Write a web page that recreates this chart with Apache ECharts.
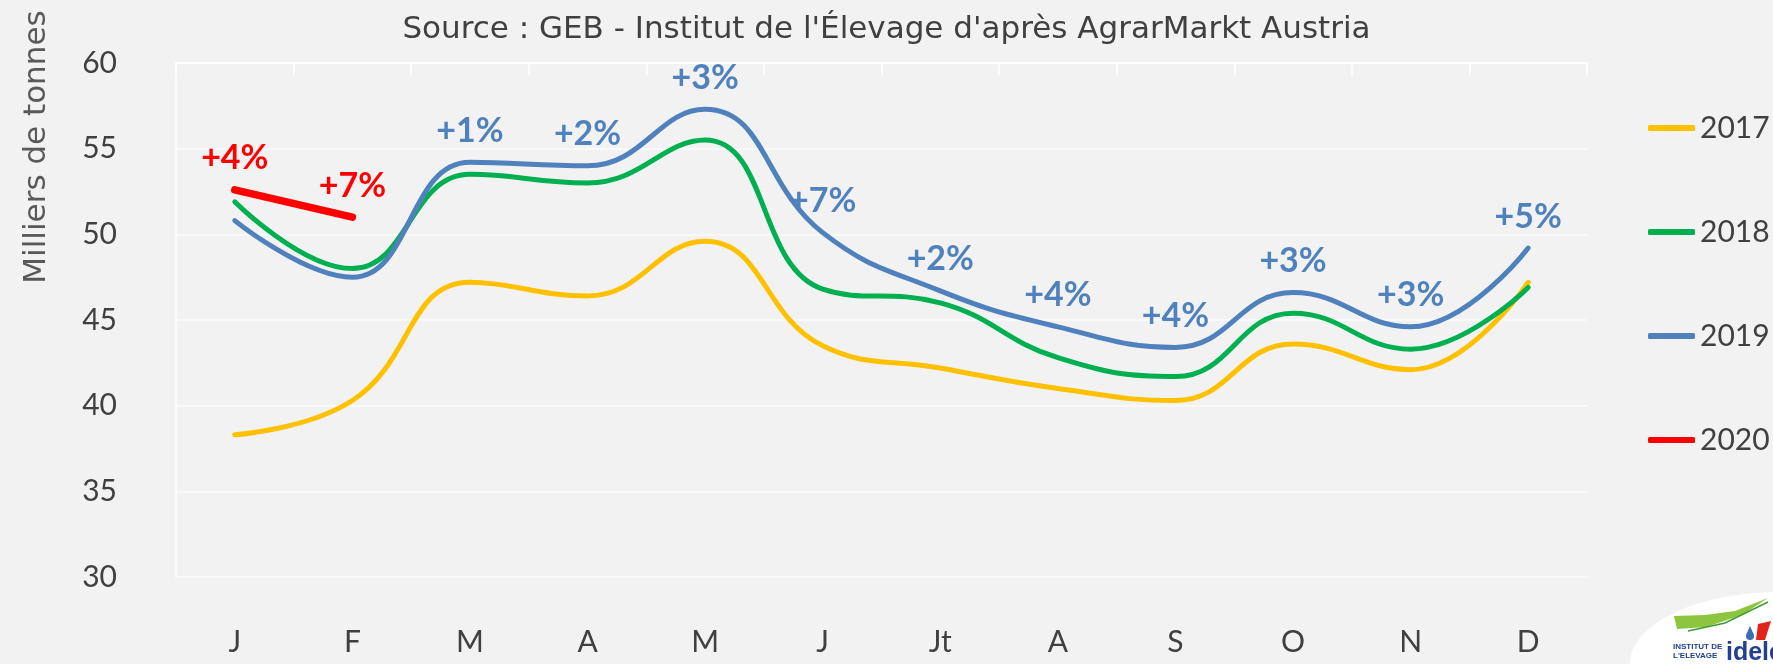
<!DOCTYPE html>
<html>
<head>
<meta charset="utf-8">
<script src="https://cdn.jsdelivr.net/npm/echarts@6/dist/echarts.min.js"></script>
<style>
  html, body { margin: 0; padding: 0; background: #f2f2f2; }
  #chart { width: 1773px; height: 664px; }
</style>
</head>
<body>
<div id="chart"></div>
<script>
// Month initials along the x axis
var months = ['J', 'F', 'M', 'A', 'M', 'J', 'Jt', 'A', 'S', 'O', 'N', 'D'];

// Monthly volumes, thousand tonnes
var v2017 = [38.3, 40.3, 47.2, 46.4, 49.6, 43.5, 42.2, 41.0, 40.3, 43.6, 42.1, 47.2];
var v2018 = [51.9, 48.0, 53.5, 53.0, 55.5, 46.8, 46.0, 42.8, 41.7, 45.4, 43.3, 46.9];
var v2019 = [50.8, 47.5, 54.2, 54.0, 57.3, 50.1, 46.7, 44.6, 43.4, 46.6, 44.6, 49.2];
var v2020 = [52.6, 51.0];

// Year-on-year change shown above each point
var chg2019 = ['', '', '+1%', '+2%', '+3%', '+7%', '+2%', '+4%', '+4%', '+3%', '+3%', '+5%'];
var chg2020 = ['+4%', '+7%'];

var yTicks = { min: 30, max: 60, step: 5 };

var FONT = 'Lato, "Open Sans", sans-serif';
var WIDE = '"DejaVu Sans", Lato, sans-serif';
var TXT = '#404040';
var COL = { y2017: '#ffc000', y2018: '#00b050', y2019: '#4f81bd', y2020: '#ff0000' };

var chart = echarts.init(document.getElementById('chart'), null, { renderer: 'canvas' });

function pctLabel(arr, color) {
  return {
    show: true,
    position: 'top',
    distance: 14,
    fontFamily: FONT,
    fontWeight: 'bold',
    fontSize: 34,
    color: color,
    formatter: function (p) { return arr[p.dataIndex] || ''; }
  };
}

chart.setOption({
  animation: false,
  backgroundColor: '#f2f2f2',
  textStyle: { fontFamily: FONT },
  title: {
    text: "Source : GEB - Institut de l'Élevage d'après AgrarMarkt Austria",
    left: 'center',
    top: 14,
    padding: 0,
    textStyle: { fontFamily: WIDE, fontSize: 31, fontWeight: 'normal', color: TXT }
  },
  legend: {
    orient: 'vertical',
    left: 1643,
    top: 108,
    itemGap: 74,
    itemWidth: 47,
    itemHeight: 6,
    icon: 'roundRect',
    selectedMode: false,
    textStyle: { fontFamily: FONT, fontSize: 30, color: TXT },
    data: ['2017', '2018', '2019', '2020']
  },
  grid: { left: 176, right: 186, top: 63, bottom: 87, containLabel: false },
  xAxis: [
    {
      type: 'category',
      data: months,
      boundaryGap: true,
      position: 'bottom',
      axisLine: { show: false },
      axisTick: { show: false },
      axisLabel: { margin: 50, fontSize: 30, color: TXT, fontFamily: FONT }
    },
    {
      type: 'category',
      data: months,
      boundaryGap: true,
      position: 'top',
      axisLine: { show: true, lineStyle: { color: '#ffffff', width: 1.5 } },
      axisTick: { show: true, inside: true, length: 12, lineStyle: { color: '#ffffff', width: 1.5 } },
      axisLabel: { show: false }
    }
  ],
  yAxis: {
    type: 'value',
    min: yTicks.min,
    max: yTicks.max,
    interval: yTicks.step,
    axisLine: { show: true, lineStyle: { color: '#ffffff', width: 1.5 } },
    axisTick: { show: false },
    splitLine: { show: true, lineStyle: { color: '#fbfbfb', width: 1.5 } },
    axisLabel: { margin: 59, fontSize: 30, color: TXT, fontFamily: FONT }
  },
  series: [
    {
      name: '2017', type: 'line', data: v2017, smooth: 0.45,
      showSymbol: false, symbol: 'none',
      lineStyle: { color: COL.y2017, width: 5, cap: 'round' },
      itemStyle: { color: COL.y2017 }
    },
    {
      name: '2018', type: 'line', data: v2018, smooth: 0.45,
      showSymbol: false, symbol: 'none',
      lineStyle: { color: COL.y2018, width: 5, cap: 'round' },
      itemStyle: { color: COL.y2018 }
    },
    {
      name: '2019', type: 'line', data: v2019, smooth: 0.45,
      symbol: 'circle', symbolSize: 1,
      lineStyle: { color: COL.y2019, width: 5, cap: 'round' },
      itemStyle: { color: COL.y2019 },
      label: pctLabel(chg2019, COL.y2019)
    },
    {
      name: '2020', type: 'line', data: v2020,
      symbol: 'circle', symbolSize: 1,
      lineStyle: { color: COL.y2020, width: 7.5, cap: 'round' },
      itemStyle: { color: COL.y2020 },
      label: pctLabel(chg2020, COL.y2020)
    }
  ],
  graphic: [
    {
      type: 'text',
      x: 37, y: 147,
      rotation: Math.PI / 2,
      style: {
        text: 'Milliers de tonnes',
        fontFamily: WIDE, fontSize: 31, fill: '#595959',
        align: 'center', verticalAlign: 'middle'
      }
    },
    // idele logo, bottom right corner
    {
      type: 'group',
      children: [
        { type: 'ellipse', shape: { cx: 1780, cy: 664, rx: 150, ry: 72 }, style: { fill: '#ffffff' } },
        { type: 'polygon', shape: { points: [[1674, 616], [1705, 615], [1735, 611], [1768, 598], [1742, 615], [1706, 627], [1677, 629]] },
          style: { fill: '#8cc63f' } },
        { type: 'polyline', shape: { points: [[1688, 631], [1725, 623], [1768, 602]] },
          style: { stroke: '#3f9b35', lineWidth: 1.5, fill: null } },
        { type: 'polygon', shape: { points: [[1758, 624], [1771, 621], [1765, 640], [1756, 640]] },
          style: { fill: '#e2231a' } },
        { type: 'circle', shape: { cx: 1750, cy: 636, r: 4 }, style: { fill: '#3c6eb4' } },
        { type: 'polygon', shape: { points: [[1750, 626], [1746.5, 634], [1753.5, 634]] }, style: { fill: '#3c6eb4' } },
        { type: 'text', x: 1673, y: 643,
          style: { text: 'INSTITUT DE', fontFamily: 'Liberation Sans', fontWeight: 'bold', fontSize: 8, fill: '#22408f' } },
        { type: 'text', x: 1673, y: 652,
          style: { text: "L'ELEVAGE", fontFamily: 'Liberation Sans', fontWeight: 'bold', fontSize: 8, fill: '#22408f' } },
        { type: 'text', x: 1726, y: 641,
          style: { text: 'idele', fontFamily: 'Liberation Sans', fontWeight: 'bold', fontSize: 25, fill: '#22408f' } }
      ]
    }
  ]
});
</script>
</body>
</html>
